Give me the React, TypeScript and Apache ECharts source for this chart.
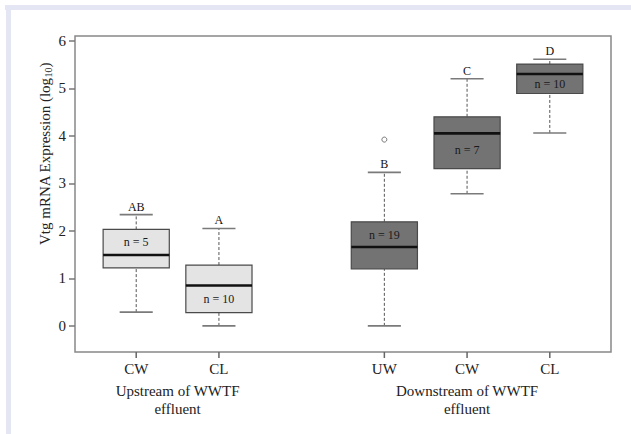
import React, { useEffect, useRef } from "react";
import * as echarts from "echarts";

// Category positions and labels
const positions = [1, 2, 4, 5, 6];
const tickLabels = ["CW", "CL", "UW", "CW", "CL"];
const groupCenters = [1.5, 5];
const groupLabels = ["Upstream of WWTF\neffluent", "Downstream of WWTF\neffluent"];

// Box statistics (log10 Vtg expression)
const lowWhisker = [0.29, 0.0, 0.0, 2.78, 4.06];
const q1 = [1.22, 0.28, 1.2, 3.31, 4.89];
const median = [1.49, 0.85, 1.66, 4.05, 5.3];
const q3 = [2.03, 1.28, 2.19, 4.4, 5.51];
const highWhisker = [2.34, 2.05, 3.23, 5.2, 5.61];
const nLabels = ["n = 5", "n = 10", "n = 19", "n = 7", "n = 10"];
const nLabelY = [1.76, 0.57, 1.92, 3.7, 5.09];
const letters = ["AB", "A", "B", "C", "D"];
const upstream = [true, true, false, false, false];
const outliers = [[4, 3.92]];

const yTicks = [0, 1, 2, 3, 4, 5, 6];
const Y_MIN = -0.55;
const Y_MAX = 6.1;

const FONT = "Liberation Serif";

export default function App() {
  const ref = useRef<HTMLDivElement>(null);
  useEffect(() => {
    if (!ref.current) return;
    const chart = echarts.init(ref.current, undefined, { renderer: "svg" });
    const boxData = positions.map((p, i) => [
      p,
      lowWhisker[i],
      q1[i],
      median[i],
      q3[i],
      highWhisker[i],
      nLabelY[i],
      i,
    ]);
    const baseGraphic: any[] = [
      { type: "rect", shape: { x: 5, y: 5, width: 626, height: 5 }, style: { fill: "#e4e6f3" }, silent: true },
      { type: "rect", shape: { x: 6, y: 5, width: 5, height: 429 }, style: { fill: "#e4e6f3" }, silent: true },
      {
        type: "text",
        x: 45,
        y: 154,
        rotation: Math.PI / 2,
        style: {
          text: "{a|Vtg mRNA Expression (log}{s|10}{a|)}",
          align: "center",
          verticalAlign: "middle",
          fill: "#222",
          rich: {
            a: { fontSize: 15, fontFamily: FONT, fill: "#222", lineHeight: 18 },
            s: { fontSize: 10, fontFamily: FONT, fill: "#222", lineHeight: 18, padding: [7, 0, 0, 0] },
          },
        },
      },
    ];
    const option: any = {
      animation: false,
      backgroundColor: "#ffffff",
      textStyle: { fontFamily: FONT },
      grid: {
        left: 75,
        top: 36,
        right: 20,
        bottom: 82,
        show: true,
        borderColor: "#888888",
        borderWidth: 1.5,
        backgroundColor: "transparent",
      },
      graphic: baseGraphic,
      xAxis: [
        {
          type: "value",
          position: "bottom",
          min: 0.26,
          max: 6.74,
          axisLine: { show: false, onZero: false },
          splitLine: { show: false },
          axisTick: { show: false },
          axisLabel: {
            customValues: positions,
            margin: 9,
            fontSize: 15,
            fontFamily: FONT,
            color: "#222",
            formatter: (v: number) => {
              const i = positions.indexOf(v);
              return i >= 0 ? tickLabels[i] : "";
            },
          },
        },
        {
          type: "value",
          min: 0.26,
          max: 6.74,
          position: "bottom",
          axisLine: { show: false, onZero: false },
          splitLine: { show: false },
          axisTick: { show: false },
          axisLabel: {
            customValues: groupCenters,
            margin: 30,
            fontSize: 15,
            lineHeight: 18,
            fontFamily: FONT,
            color: "#222",
            formatter: (v: number) => {
              const i = groupCenters.indexOf(v);
              return i >= 0 ? groupLabels[i] : "";
            },
          },
        },
      ],
      yAxis: {
        type: "value",
        min: Y_MIN,
        max: Y_MAX,
        axisLine: { show: false, onZero: false },
        splitLine: { show: false },
        axisTick: {
          show: true,
          customValues: yTicks,
          length: 6,
          lineStyle: { color: "#777", width: 1.5 },
        },
        axisLabel: {
          customValues: yTicks,
          margin: 9,
          fontSize: 15,
          fontFamily: FONT,
          color: "#222",
        },
      },
      series: [
        {
          type: "custom",
          xAxisIndex: 0,
          yAxisIndex: 0,
          clip: false,
          data: boxData,
          renderItem: (params: any, api: any) => {
            const x = api.value(0);
            const idx = api.value(7);
            const lo = api.coord([x, api.value(1)]);
            const b1 = api.coord([x, api.value(2)]);
            const md = api.coord([x, api.value(3)]);
            const b3 = api.coord([x, api.value(4)]);
            const hi = api.coord([x, api.value(5)]);
            const nl = api.coord([x, api.value(6)]);
            const bw = api.size([0.8, 0])[0];
            const cw = api.size([0.4, 0])[0];
            const cx = lo[0];
            const fill = upstream[idx] ? "#e4e4e4" : "#737373";
            const dash = { stroke: "#555", lineWidth: 1, lineDash: [3, 2] };
            const cap = { stroke: "#7a7a7a", lineWidth: 1.6 };
            return {
              type: "group",
              children: [
                { type: "line", shape: { x1: cx, y1: lo[1], x2: cx, y2: b1[1] }, style: dash },
                { type: "line", shape: { x1: cx, y1: b3[1], x2: cx, y2: hi[1] }, style: dash },
                { type: "line", shape: { x1: cx - cw / 2, y1: lo[1], x2: cx + cw / 2, y2: lo[1] }, style: cap },
                { type: "line", shape: { x1: cx - cw / 2, y1: hi[1], x2: cx + cw / 2, y2: hi[1] }, style: cap },
                {
                  type: "rect",
                  shape: { x: cx - bw / 2, y: b3[1], width: bw, height: b1[1] - b3[1] },
                  style: { fill, stroke: "#4a4a4a", lineWidth: 1.2 },
                },
                {
                  type: "line",
                  shape: { x1: cx - bw / 2, y1: md[1], x2: cx + bw / 2, y2: md[1] },
                  style: { stroke: "#111", lineWidth: 2.6 },
                },
                {
                  type: "text",
                  x: cx,
                  y: nl[1],
                  style: {
                    text: nLabels[idx],
                    align: "center",
                    verticalAlign: "middle",
                    fontSize: 12,
                    fontFamily: FONT,
                    fill: "#1a1a1a",
                  },
                },
                {
                  type: "text",
                  x: cx,
                  y: hi[1] - 8,
                  style: {
                    text: letters[idx],
                    align: "center",
                    verticalAlign: "middle",
                    fontSize: 12,
                    fontFamily: FONT,
                    fill: "#111",
                  },
                },
              ],
            };
          },
        },
        {
          type: "scatter",
          xAxisIndex: 0,
          yAxisIndex: 0,
          data: outliers,
          symbol: "circle",
          symbolSize: 5,
          itemStyle: { color: "#ffffff", borderColor: "#555", borderWidth: 1 },
        },
      ],
    };
    chart.setOption(option);
    // x-axis ticks below the plot box, positioned through the axis scale
    const tickGraphics = positions.map((p) => {
      const pt = chart.convertToPixel({ xAxisIndex: 0, yAxisIndex: 0 } as any, [p, Y_MIN]) as number[];
      return {
        type: "line",
        silent: true,
        z: 100,
        shape: { x1: pt[0], y1: pt[1], x2: pt[0], y2: pt[1] + 6 },
        style: { stroke: "#666", lineWidth: 1.5 },
      };
    });
    chart.setOption({ graphic: [...baseGraphic, ...tickGraphics] });
    return () => chart.dispose();
  }, []);
  return (
    <div
      ref={ref}
      style={{ position: "fixed", left: 0, top: 0, width: 631, height: 434 }}
    />
  );
}
